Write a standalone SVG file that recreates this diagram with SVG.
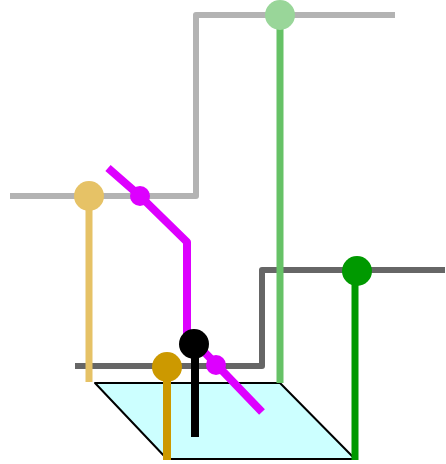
<svg xmlns="http://www.w3.org/2000/svg" width="446" height="464" viewBox="0 0 446 464">
<style>
.ln{fill:none;stroke-width:6;stroke-linejoin:round}
.th{stroke-width:7}
.tk{stroke-width:8}
</style>
<rect width="446" height="464" fill="#fff"/>
<g id="plane"><polygon points="95,383 280,383 355,459 167,459" fill="#ccffff" stroke="#000" stroke-width="2" stroke-linejoin="round"/></g>
<g id="connectors">
<polyline class="ln" stroke="#b3b3b3" points="10,196 196,196 196,15 395,15"/>
<polyline class="ln" stroke="#666666" points="75,366 262,366 262,270 445,270"/>
<polyline class="ln th" stroke="#66c266" points="280,15 280,383"/>
<polyline class="ln th" stroke="#e6c266" points="89,196 89,382"/>
<polyline class="ln th" stroke="#009900" points="355,270 355,460"/>
<polyline class="ln tk" stroke="#dd00ff" points="108,168 140,196 187,242 187,334 262,412"/>
<polyline class="ln tk" stroke="#000000" points="195,344 195,437"/>
<polyline class="ln tk" stroke="#cc9900" points="167,367 167,460"/>
</g>
<g id="n-lightgreen"><circle cx="280" cy="15" r="15" fill="#99d699"/></g>
<g id="n-tan"><circle cx="89" cy="196" r="15" fill="#e6c266"/></g>
<g id="n-darkgreen"><circle cx="357" cy="271" r="15" fill="#009900"/></g>
<g id="n-magenta1"><circle cx="140" cy="196" r="10" fill="#dd00ff"/></g>
<g id="n-magenta2"><circle cx="216" cy="365" r="10" fill="#dd00ff"/></g>
<g id="n-black"><circle cx="194" cy="344" r="15" fill="#000"/></g>
<g id="n-gold"><circle cx="167" cy="367" r="15" fill="#cc9900"/></g>
</svg>
